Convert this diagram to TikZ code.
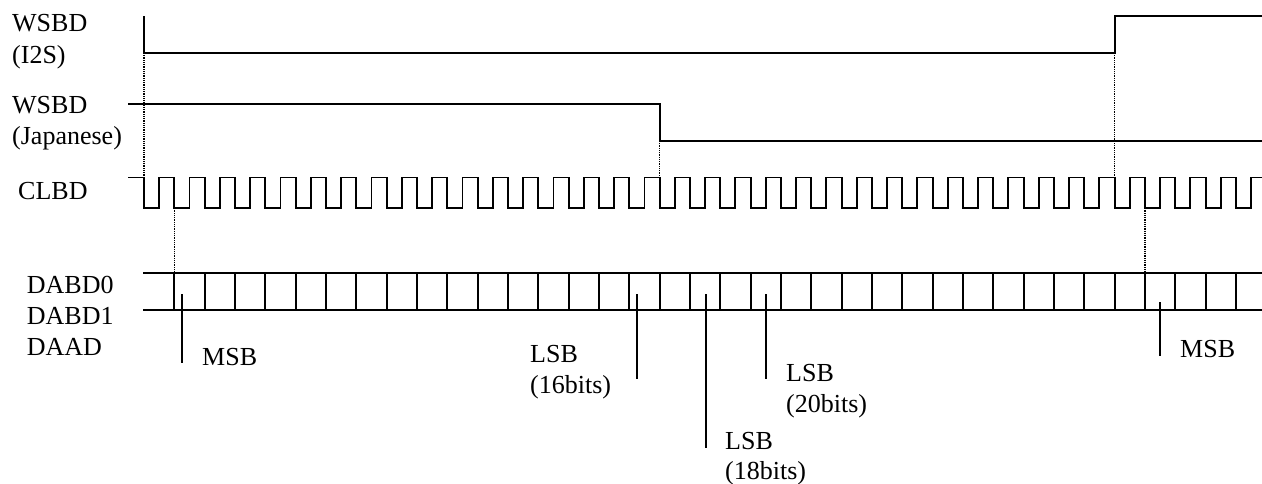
\documentclass[tikz,border=0pt]{standalone}
\usepackage{fontspec}
\setmainfont{Liberation Serif}
\begin{document}
\begin{tikzpicture}[x=1pt,y=-1pt,
  wave/.style={line width=1.9pt, line join=miter},
  guide/.style={line width=1.2pt, dash pattern=on 1pt off 0.8pt},
  marker/.style={line width=1.9pt},
  lbl/.style={inner sep=0pt, anchor=base west, font=\fontsize{26}{31}\selectfont}]
\useasboundingbox (0,0) rectangle (1262,483);
% period
\def\P{30.33}
\def\H{15.165}
% labels
\node[lbl] (w1) at (12,31.7) {WSBD};
\node[lbl] (w1b) at (12,63) {(I2S)};
\node[lbl] (w2) at (12,113.3) {WSBD};
\node[lbl] (w2b) at (12,144.3) {(Japanese)};
\node[lbl] (clk) at (18,199) {CLBD};
\node[lbl] (d0) at (26.7,293) {DABD0};
\node[lbl] (d1) at (26.7,324) {DABD1};
\node[lbl] (da) at (26.7,355) {DAAD};
% WSBD I2S
\draw[wave] (144,16) -- (144,53) -- (1114.6,53) -- (1114.6,16) -- (1262,16);
% WSBD Japanese
\draw[wave] (128,104) -- (659.6,104) -- (659.6,141) -- (1262,141);
% clock
\draw[wave] (128,177.5) -- (144,177.5)
  \foreach \n in {0,...,35} { -- ++(0,30.2) -- ++(\H,0) -- ++(0,-30.2) -- ++(\H,0) }
  -- ++(0,30.2) -- ++(\H,0) -- ++(0,-30.2) -- (1262,177.5);
% data bus
\draw[wave] (143,273) -- (1262,273);
\draw[wave] (143,310) -- (1262,310);
\foreach \n in {1,...,36} { \draw[wave] ({144+\P*\n},273) -- ++(0,37); }
% guides
\draw[guide] (144,53) -- (144,177.5);
\draw[guide] ({144+\P},207.7) -- ({144+\P},273);
\draw[guide] (659.6,141) -- (659.6,177.5);
\draw[guide] (1114.6,53) -- (1114.6,177.5);
\draw[guide] ({144+33*\P},207.7) -- ({144+33*\P},273);
% markers
\coordinate (m1t) at (182,294); \coordinate (m1b) at (182,363);
\coordinate (l16t) at (637.3,294); \coordinate (l16b) at (637.3,379);
\coordinate (l18t) at (705.7,294); \coordinate (l18b) at (705.7,447.7);
\coordinate (l20t) at (766,294); \coordinate (l20b) at (766,379);
\coordinate (m2t) at (1160,302); \coordinate (m2b) at (1160,356);
\draw[marker] (m1t) -- (m1b);
\draw[marker] (l16t) -- (l16b);
\draw[marker] (l18t) -- (l18b);
\draw[marker] (l20t) -- (l20b);
\draw[marker] (m2t) -- (m2b);
% marker labels
\node[lbl] (msb1) at (202,365.7) {MSB};
\node[lbl] (lsb16) at (530,362) {LSB};
\node[lbl] (lsb16b) at (530,393) {(16bits)};
\node[lbl] (lsb18) at (725,449.3) {LSB};
\node[lbl] (lsb18b) at (725,479.3) {(18bits)};
\node[lbl] (lsb20) at (786,381.7) {LSB};
\node[lbl] (lsb20b) at (786,412.7) {(20bits)};
\node[lbl] (msb2) at (1180,357.7) {MSB};
\end{tikzpicture}
\end{document}
